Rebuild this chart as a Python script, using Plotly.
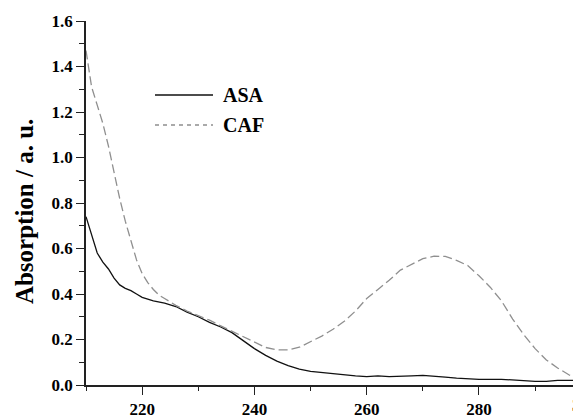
import plotly.graph_objects as go

# Wavelength (nm) and absorbance values
asa_x = [210, 211, 212, 213, 214, 215, 216, 217, 218, 219, 220, 222, 224, 226, 228, 230,
         232, 234, 236, 238, 240, 242, 244, 246, 248, 250, 252, 254, 256, 258, 260, 262,
         264, 266, 268, 270, 272, 274, 276, 278, 280, 284, 286, 288, 290, 292, 294, 296, 298.2]
asa_y = [0.74, 0.66, 0.58, 0.54, 0.51, 0.47, 0.44, 0.425, 0.415, 0.40, 0.385, 0.37, 0.36, 0.345,
         0.32, 0.30, 0.275, 0.255, 0.23, 0.195, 0.16, 0.13, 0.105, 0.085, 0.07, 0.06, 0.055,
         0.05, 0.042, 0.04, 0.037, 0.04, 0.037, 0.037, 0.04, 0.042, 0.04, 0.035, 0.03, 0.027,
         0.025, 0.025, 0.022, 0.018, 0.016, 0.016, 0.02, 0.02, 0.02]

caf_x = [210, 211, 212, 213, 214, 215, 216, 217, 218, 219, 220, 221, 222, 223, 224, 226, 228,
         230, 232, 234, 236, 238, 240, 242, 244, 246, 248, 250, 252, 254, 256, 258, 260, 262,
         264, 266, 268, 270, 272, 273, 274, 276, 278, 280, 282, 284, 286, 288, 290, 292, 294,
         296, 298.2]
caf_y = [1.47, 1.31, 1.23, 1.15, 1.05, 0.93, 0.82, 0.72, 0.63, 0.55, 0.49, 0.45, 0.42, 0.395,
         0.38, 0.35, 0.325, 0.305, 0.285, 0.26, 0.237, 0.213, 0.19, 0.165, 0.155, 0.154, 0.166,
         0.19, 0.215, 0.245, 0.28, 0.325, 0.38, 0.42, 0.46, 0.505, 0.53, 0.555, 0.566, 0.567,
         0.565, 0.548, 0.525, 0.48, 0.43, 0.37, 0.29, 0.22, 0.16, 0.11, 0.075, 0.045, 0.02]

series_names = ["ASA", "CAF"]
x_tickvals = [220, 240, 260, 280]
x_ticklabels = ["220", "240", "260", "280"]
y_tickvals = [0, 0.2, 0.4, 0.6, 0.8, 1.0, 1.2, 1.4, 1.6]
y_ticklabels = ["0.0", "0.2", "0.4", "0.6", "0.8", "1.0", "1.2", "1.4", "1.6"]
x_range = [210, 298.17]
y_range = [0, 1.6]
clipped_tick = 300

SERIF = "Liberation Serif"

fig = go.Figure()
fig.add_trace(go.Scatter(x=asa_x, y=asa_y, mode="lines", name=series_names[0],
                         line=dict(color="#111111", width=1.3)))
fig.add_trace(go.Scatter(x=caf_x, y=caf_y, mode="lines", name=series_names[1],
                         line=dict(color="#8f8f8f", width=1.3, dash="9px,4px")))

axis_common = dict(
    showgrid=False, zeroline=False, showline=True, linecolor="#222222", linewidth=1.5,
    ticks="outside", ticklen=8, tickwidth=1.3, tickcolor="#222222", automargin=False,
    tickfont=dict(family=SERIF, size=17, color="black"),
)

fig.update_layout(
    width=573, height=407,
    margin=dict(l=78, r=0, t=13, b=30),
    paper_bgcolor="white", plot_bgcolor="white",
    showlegend=False,
    xaxis=dict(range=x_range, tickmode="array", tickvals=x_tickvals,
               ticktext=["<b>%s</b>" % t for t in x_ticklabels],
               minor=dict(dtick=10, tick0=210, ticks="outside", ticklen=4,
                          tickcolor="#222222", tickwidth=1.2),
               **axis_common),
    yaxis=dict(range=y_range, tickmode="array", tickvals=y_tickvals,
               ticktext=["<b>%s</b>" % t for t in y_ticklabels],
               minor=dict(dtick=0.1, tick0=0, ticks="outside", ticklen=5,
                          tickcolor="#222222", tickwidth=1.2),
               **axis_common),
)

# Clipped "300" tick label at the right edge
fig.add_annotation(xref="paper", yref="paper",
                   x=(clipped_tick - x_range[0]) / (x_range[1] - x_range[0]), y=0,
                   xanchor="center", yanchor="top", yshift=-9, xshift=-6, showarrow=False,
                   text="<b>%d</b>" % clipped_tick,
                   font=dict(family=SERIF, size=17, color="black"))

# Y-axis title
fig.add_annotation(xref="paper", yref="paper", x=(16 - 78) / 495, y=0.475,
                   xanchor="center", yanchor="middle", textangle=-90, showarrow=False,
                   text="<b>Absorption / a. u.</b>",
                   font=dict(family=SERIF, size=25, color="black"))

# Manual legend
legend_rows = [(0.7967, "#111111", None), (0.7143, "#8f8f8f", "4px,4px")]
for (yy, col, dash), name in zip(legend_rows, series_names):
    fig.add_shape(type="line", xref="paper", yref="paper", x0=0.1394, x1=0.2566, y0=yy, y1=yy,
                  line=dict(color=col, width=1.3, dash=dash if dash else "solid"))
    fig.add_annotation(xref="paper", yref="paper", x=0.2727, y=yy, xanchor="left",
                       yanchor="middle", showarrow=False, text="<b>%s</b>" % name,
                       font=dict(family=SERIF, size=20, color="black"))

fig.write_html("out.html")
